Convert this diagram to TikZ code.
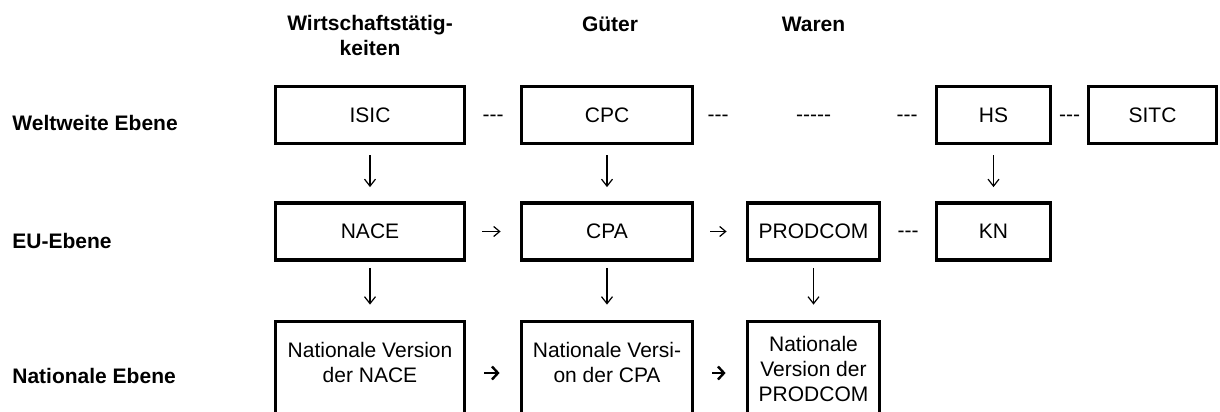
\documentclass[tikz,border=0pt]{standalone}
\usepackage{fontspec}
\setmainfont{Liberation Sans}
\usepackage{tikz}
\usetikzlibrary{arrows.meta, positioning, calc}

\begin{document}
\begin{tikzpicture}[x=0.5pt, y=-0.5pt,
    every node/.style={font=\fontsize{10.5}{12.5}\selectfont, inner sep=0pt},
    klass/.style={draw, line width=1.9pt, minimum height=28.5pt},
    natklass/.style={draw, line width=1.9pt, minimum height=51.5pt},
    ebene/.style={anchor=base west, font=\fontsize{10.5}{12.5}\selectfont\bfseries},
    kopf/.style={font=\fontsize{10.5}{12.5}\selectfont\bfseries, align=center},
    strich/.style={yshift=-1.5pt},
    runter/.style={-{Straight Barb[length=3.5pt,width=5.5pt]}, line width=0.6pt, shorten <=5pt, shorten >=7pt},
    quer/.style={-{Straight Barb[length=3pt,width=5pt]}, line width=0.6pt, shorten <=8pt, shorten >=9.5pt},
    dick/.style={-{Straight Barb[length=3pt,width=6.5pt]}, line width=1.2pt, shorten <=9pt, shorten >=10pt}]
  % Define the visible area
  \clip (0,0) rectangle (1220,412);

  % Column headings
  \node[kopf, anchor=north] (taetig) at (370,15) {Wirtschaftstätig-\\keiten};
  \node[kopf, anchor=base] (gueter) at (610,32) {Güter};
  \node[kopf, anchor=base] (waren) at (813.5,32) {Waren};

  % Row labels on the left
  \node[ebene] (welt) at (12,130) {Weltweite Ebene};
  \node[ebene] (eu) at (12,248) {EU-Ebene};
  \node[ebene] (nat) at (12,383) {Nationale Ebene};

  % Worldwide classifications
  \node[klass, minimum width=94.5pt] (isic) at (370,115) {ISIC};
  \node[klass, minimum width=85.5pt] (cpc) at (607,115) {CPC};
  \node[klass, minimum width=57pt] (hs) at (993.5,115) {HS};
  \node[klass, minimum width=64pt] (sitc) at (1152.5,115) {SITC};

  % EU classifications
  \node[klass, minimum width=94.5pt] (nace) at (370,231.5) {NACE};
  \node[klass, minimum width=85.5pt] (cpa) at (607,231.5) {CPA};
  \node[klass, minimum width=66pt] (prodcom) at (813.5,231.5) {PRODCOM};
  \node[klass, minimum width=57pt] (kn) at (993.5,231.5) {KN};

  % National versions (open towards the bottom edge)
  \node[natklass, minimum width=94.5pt] (natnace) at (370,373) {};
  \node[natklass, minimum width=85.5pt] (natcpa) at (607,373) {};
  \node[natklass, minimum width=66pt] (natprodcom) at (813.5,373) {};
  \node[align=center] (natnacetxt) at (370,362) {Nationale Version\\der NACE};
  \node[align=center] (natcpatxt) at (607,362) {Nationale Versi-\\on der CPA};
  \node[align=center] (natprodcomtxt) at (813.5,368.5) {Nationale\\Version der\\PRODCOM};

  % Dashes between the worldwide classifications
  \node[strich] (s1) at ($(isic.east)!0.5!(cpc.west)$) {-{}-{}-};
  \node[strich] (s2) at (718,115) {-{}-{}-};
  \node[strich] (s3) at (813.5,115) {-{}-{}-{}-{}-};
  \node[strich] (s4) at (907,115) {-{}-{}-};
  \node[strich] (s5) at ($(hs.east)!0.5!(sitc.west)$) {-{}-{}-};
  \node[strich] (s6) at ($(prodcom.east)!0.5!(kn.west)$) {-{}-{}-};

  % Arrows downwards
  \draw[runter] (isic) -- (nace);
  \draw[runter] (cpc) -- (cpa);
  \draw[runter] (hs) -- (kn);
  \draw[runter, shorten <=3pt, shorten >=7.5pt] (nace) -- (natnace);
  \draw[runter, shorten <=3pt, shorten >=7.5pt] (cpa) -- (natcpa);
  \draw[runter, shorten <=3pt, shorten >=7.5pt] (prodcom) -- (natprodcom);

  % Arrows to the right
  \draw[quer] (nace) -- (cpa);
  \draw[quer] (cpa) -- (prodcom);
  \draw[dick] (natnace) -- (natcpa);
  \draw[dick] (natcpa) -- (natprodcom);
\end{tikzpicture}
\end{document}
